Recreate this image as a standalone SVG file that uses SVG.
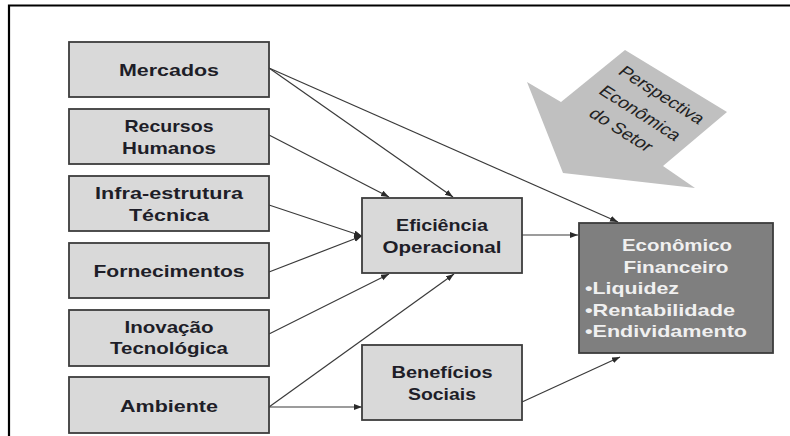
<svg xmlns="http://www.w3.org/2000/svg" width="790" height="436" viewBox="0 0 790 436">
<style>
.box{fill:#d9d9d9;stroke:#3c3c3c;stroke-width:1.8}
.dark{fill:#7f7f7f;stroke:#3c3c3c;stroke-width:1.8}
.t{font-family:"Liberation Sans",Arial,sans-serif;font-weight:bold;font-size:17px;fill:#1e1e28;text-anchor:middle}
.w{font-family:"Liberation Sans",Arial,sans-serif;font-weight:bold;font-size:17px;fill:#f0f0f0}
.a{font-family:"Liberation Sans",Arial,sans-serif;font-size:15.5px;fill:#222;text-anchor:middle}
.c{fill:none;stroke:#3a3a3a;stroke-width:1.2}
</style>
<defs>
<marker id="ah" markerUnits="userSpaceOnUse" markerWidth="9" markerHeight="7" refX="8" refY="3" orient="auto">
<path d="M0,0 L8,3 L0,6 z" fill="#2a2a2a"/>
</marker>
</defs>
<rect width="790" height="436" fill="#fff"/>
<path d="M9,436 V5.5 H790" fill="none" stroke="#000" stroke-width="2.2"/>

<g id="perspectiva">
<polygon points="527,82 561,102 625,50 727,112 663,166 695,188 563,173" fill="#c0c0c0"/>
<text class="a" transform="translate(657.5,99) scale(1.3,1) rotate(39.5)">Perspectiva</text>
<text class="a" transform="translate(636,117) scale(1.3,1) rotate(39.5)">Econômica</text>
<text class="a" transform="translate(617,134) scale(1.3,1) rotate(39.5)">do Setor</text>
</g>

<g id="connectors">
<line class="c" x1="269" y1="68" x2="453" y2="197" marker-end="url(#ah)"/>
<line class="c" x1="269" y1="68" x2="618" y2="222" marker-end="url(#ah)"/>
<line class="c" x1="269" y1="135" x2="389" y2="197" marker-end="url(#ah)"/>
<line class="c" x1="269" y1="205" x2="362" y2="236" marker-end="url(#ah)"/>
<line class="c" x1="269" y1="272" x2="362" y2="236" marker-end="url(#ah)"/>
<line class="c" x1="269" y1="334" x2="389" y2="274" marker-end="url(#ah)"/>
<line class="c" x1="269" y1="407" x2="454" y2="274" marker-end="url(#ah)"/>
<line class="c" x1="269" y1="407" x2="362" y2="407" marker-end="url(#ah)"/>
<line class="c" x1="522" y1="235" x2="578" y2="235" marker-end="url(#ah)"/>
<line class="c" x1="522" y1="402" x2="620" y2="357" marker-end="url(#ah)"/>
</g>

<g id="mercados">
<rect class="box" x="69" y="42" width="200" height="55"/>
<text class="t" x="169" y="76" textLength="100" lengthAdjust="spacingAndGlyphs">Mercados</text>
</g>
<g id="recursos">
<rect class="box" x="69" y="109" width="200" height="55"/>
<text class="t" x="169" y="132" textLength="89" lengthAdjust="spacingAndGlyphs">Recursos</text>
<text class="t" x="169" y="154" textLength="94" lengthAdjust="spacingAndGlyphs">Humanos</text>
</g>
<g id="infra">
<rect class="box" x="69" y="176" width="200" height="55"/>
<text class="t" x="169" y="199" textLength="148" lengthAdjust="spacingAndGlyphs">Infra-estrutura</text>
<text class="t" x="169" y="221" textLength="80" lengthAdjust="spacingAndGlyphs">Técnica</text>
</g>
<g id="fornecimentos">
<rect class="box" x="69" y="243" width="200" height="55"/>
<text class="t" x="169" y="277" textLength="151" lengthAdjust="spacingAndGlyphs">Fornecimentos</text>
</g>
<g id="inovacao">
<rect class="box" x="69" y="310" width="200" height="56"/>
<text class="t" x="169" y="333" textLength="89" lengthAdjust="spacingAndGlyphs">Inovação</text>
<text class="t" x="169" y="354" textLength="118" lengthAdjust="spacingAndGlyphs">Tecnológica</text>
</g>
<g id="ambiente">
<rect class="box" x="69" y="377" width="200" height="56"/>
<text class="t" x="169" y="412" textLength="98" lengthAdjust="spacingAndGlyphs">Ambiente</text>
</g>
<g id="eficiencia">
<rect class="box" x="362" y="198" width="160" height="75"/>
<text class="t" x="442" y="231" textLength="92" lengthAdjust="spacingAndGlyphs">Eficiência</text>
<text class="t" x="442" y="253" textLength="119" lengthAdjust="spacingAndGlyphs">Operacional</text>
</g>
<g id="beneficios">
<rect class="box" x="362" y="345" width="160" height="75"/>
<text class="t" x="442" y="378" textLength="101" lengthAdjust="spacingAndGlyphs">Benefícios</text>
<text class="t" x="442" y="400" textLength="68" lengthAdjust="spacingAndGlyphs">Sociais</text>
</g>
<g id="economico">
<rect class="dark" x="579" y="223" width="194" height="130"/>
<text class="w" x="677" y="251" text-anchor="middle" textLength="110" lengthAdjust="spacingAndGlyphs">Econômico</text>
<text class="w" x="676" y="273" text-anchor="middle" textLength="105" lengthAdjust="spacingAndGlyphs">Financeiro</text>
<text class="w" x="585" y="294" textLength="94" lengthAdjust="spacingAndGlyphs">•Liquidez</text>
<text class="w" x="585" y="316" textLength="150" lengthAdjust="spacingAndGlyphs">•Rentabilidade</text>
<text class="w" x="585" y="337" textLength="162" lengthAdjust="spacingAndGlyphs">•Endividamento</text>
</g>
</svg>
